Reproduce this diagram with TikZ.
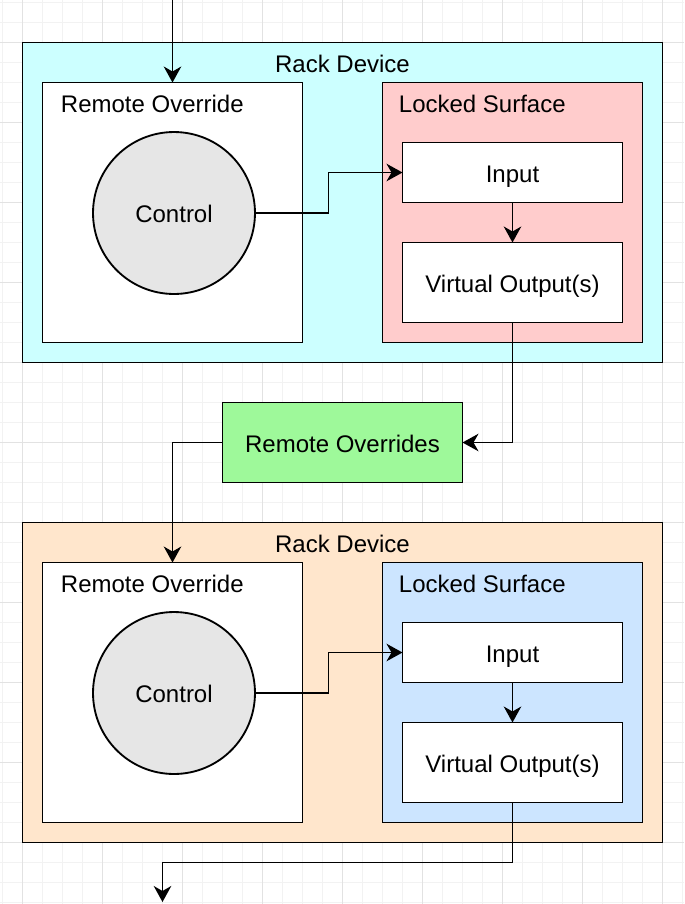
\documentclass[tikz,border=0pt]{standalone}
\usepackage{fontspec}
\setmainfont{Liberation Sans}
\usetikzlibrary{arrows.meta}

\definecolor{rackcyan}{HTML}{CCFFFF}
\definecolor{rackorange}{HTML}{FFE6CC}
\definecolor{surfpink}{HTML}{FFCCCC}
\definecolor{surfblue}{HTML}{CCE5FF}
\definecolor{ovgreen}{HTML}{9EF99A}
\definecolor{ctrlgray}{HTML}{E6E6E6}
\definecolor{gridlight}{HTML}{F2F2F2}
\definecolor{griddark}{HTML}{E2E2E2}

\begin{document}
\begin{tikzpicture}[x=0.02cm, y=-0.02cm, line width=1.05pt,
  font=\fontsize{13.66pt}{16pt}\selectfont,
  box/.style={draw, inner sep=0pt, outer sep=0pt, text height=11pt, text depth=0pt},
  rack/.style={box, minimum width=12.8cm, minimum height=6.4cm},
  panel/.style={box, minimum width=5.2cm, minimum height=5.2cm},
  slot/.style={box, fill=white, minimum width=4.4cm},
  ctrl/.style={box, circle, fill=ctrlgray, minimum size=3.24cm},
  title/.style={inner sep=0pt, text height=9.8pt, text depth=0pt},
  flow/.style={-{Stealth[length=0.32cm, width=0.35cm, inset=0.1cm]}},
]
  \useasboundingbox[fill=white] (0,0) rectangle (684,904);
  % grid
  \foreach \i in {0,...,34} \draw[gridlight, line width=0.4pt] (2.5+20*\i,0) -- ++(0,904);
  \foreach \i in {0,...,45} \draw[gridlight, line width=0.4pt] (0,2.5+20*\i) -- ++(684,0);
  \foreach \i in {0,...,8} \draw[griddark, line width=0.4pt] (22.5+80*\i,0) -- ++(0,904);
  \foreach \i in {0,...,10} \draw[griddark, line width=0.4pt] (0,42.5+80*\i) -- ++(684,0);

  % upper rack device
  \node[rack, fill=rackcyan] (rack1) at (342.5,202.5) {};
  \node[title] (rd1) at (342.5,64) {Rack Device};
  \node[panel, fill=white] (ro1) at (172.5,212.5) {};
  \node[title, anchor=west] (rol1) at (60,104) {Remote Override};
  \node[ctrl] (ctrl1) at (174,213) {Control};
  \node[panel, fill=surfpink] (ls1) at (512.5,212.5) {};
  \node[title, anchor=west] (lsl1) at (398,104) {Locked Surface};
  \node[slot, minimum height=1.2cm] (in1) at (512.5,172.5) {Input};
  \node[slot, minimum height=1.6cm] (vo1) at (512.5,282.5) {Virtual Output(s)};

  % overrides
  \node[box, fill=ovgreen, minimum width=4.8cm, minimum height=1.6cm] (ros) at (342.5,442.5) {Remote Overrides};

  % lower rack device
  \node[rack, fill=rackorange] (rack2) at (342.5,682.5) {};
  \node[title] (rd2) at (342.5,544) {Rack Device};
  \node[panel, fill=white] (ro2) at (172.5,692.5) {};
  \node[title, anchor=west] (rol2) at (60,584) {Remote Override};
  \node[ctrl] (ctrl2) at (174,693) {Control};
  \node[panel, fill=surfblue] (ls2) at (512.5,692.5) {};
  \node[title, anchor=west] (lsl2) at (398,584) {Locked Surface};
  \node[slot, minimum height=1.2cm] (in2) at (512.5,652.5) {Input};
  \node[slot, minimum height=1.6cm] (vo2) at (512.5,762.5) {Virtual Output(s)};

  % connectors
  \coordinate (src) at (172.5,0);
  \coordinate (sink) at (162.5,902);
  \draw[flow] (src) -- (ro1.north);
  \draw[flow] (ctrl1.east) -- ++(73.5,0) |- (in1.west);
  \draw[flow] (in1.south) -- (vo1.north);
  \draw[flow] (vo1.south) |- (ros.east);
  \draw[flow] (ros.west) -| (ro2.north);
  \draw[flow] (ctrl2.east) -- ++(73.5,0) |- (in2.west);
  \draw[flow] (in2.south) -- (vo2.north);
  \draw[flow] (vo2.south) -- ++(0,60) -| (sink);
\end{tikzpicture}
\end{document}
